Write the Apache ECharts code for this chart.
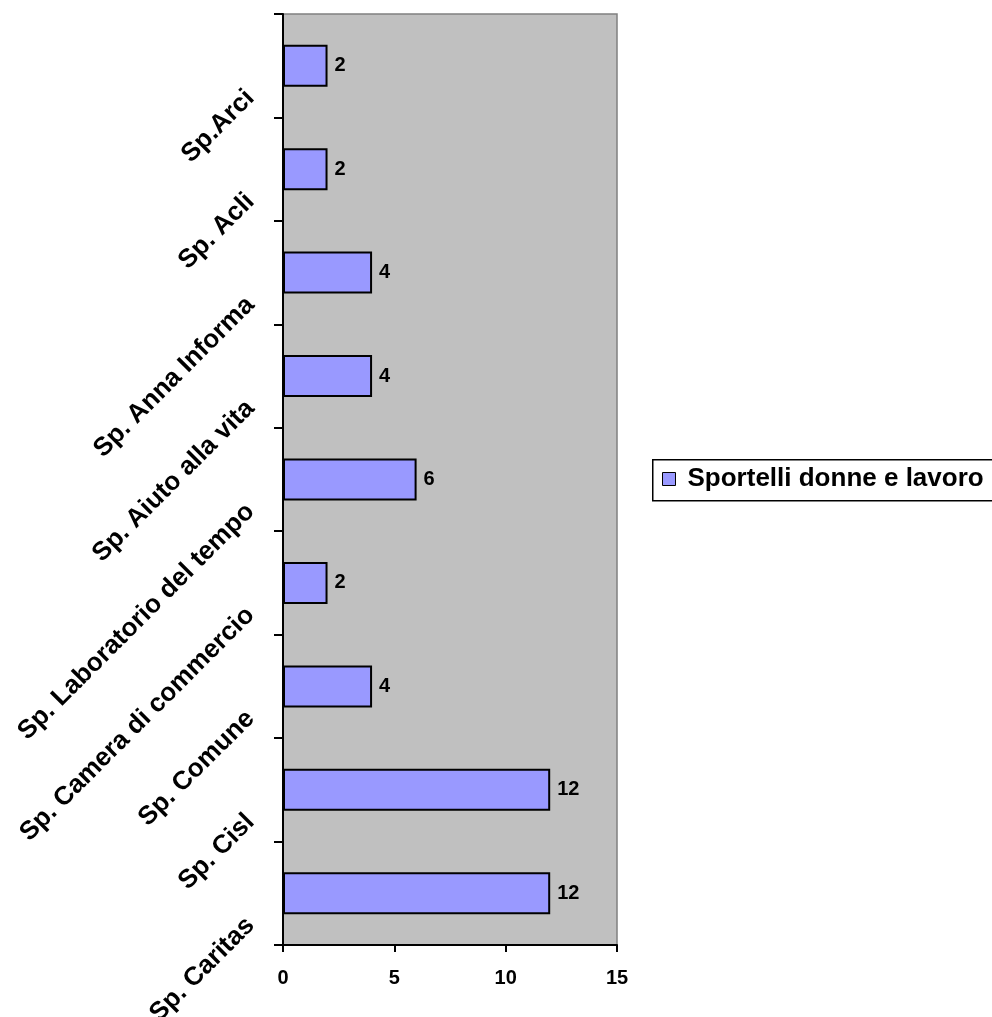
<!DOCTYPE html>
<html>
<head>
<meta charset="utf-8">
<script src="https://cdn.jsdelivr.net/npm/echarts@6/dist/echarts.min.js"></script>
<style>
html,body{margin:0;padding:0;background:#fff;}
#c{width:992px;height:1017px;}
</style>
</head>
<body>
<div id="c"></div>
<script>
const categories = ['Sp. Caritas','Sp. Cisl','Sp. Comune','Sp. Camera di commercio','Sp. Laboratorio del tempo','Sp. Aiuto alla vita','Sp. Anna Informa','Sp. Acli','Sp.Arci'];
const values = [12,12,4,2,6,4,4,2,2];
const seriesName = 'Sportelli donne e lavoro';
const xTicks = [0,5,10,15];

const FONT = 'Liberation Sans, Arial, sans-serif';
const chart = echarts.init(document.getElementById('c'));
chart.setOption({
  animation: false,
  backgroundColor: '#ffffff',
  grid: {
    left: 283, right: 375, top: 14, bottom: 72,
    show: true, backgroundColor: '#C0C0C0', borderColor: '#808080', borderWidth: 1.5,
    containLabel: false, outerBoundsMode: 'none'
  },
  graphic: [{
    type: 'rect', left: 652, top: 459, z: 0,
    shape: { width: 400, height: 41 },
    style: { fill: '#fff', stroke: '#000', lineWidth: 1.5 }
  }],
  legend: {
    left: 652, top: 459, z: 5,
    data: [seriesName],
    orient: 'horizontal',
    padding: [7, 5, 7, 10],
    borderWidth: 0,
    itemWidth: 13, itemHeight: 13,
    icon: 'rect',
    itemStyle: { color: '#9999FF', borderColor: '#000', borderWidth: 1 },
    textStyle: { fontFamily: FONT, fontWeight: 'bold', fontSize: 26, color: '#000', padding: [0,0,0,7] }
  },
  xAxis: {
    type: 'value', min: xTicks[0], max: xTicks[xTicks.length-1], interval: 5,
    axisLine: { show: true, lineStyle: { color: '#000', width: 2 } },
    axisTick: { show: true, length: 7, lineStyle: { color: '#000', width: 2 } },
    splitLine: { show: false },
    axisLabel: { fontFamily: FONT, fontWeight: 'bold', fontSize: 20, color: '#000', margin: 23 }
  },
  yAxis: {
    type: 'category', data: categories,
    axisLine: { show: true, lineStyle: { color: '#000', width: 2 } },
    axisTick: { show: true, length: 9, lineStyle: { color: '#000', width: 2 } },
    axisLabel: {
      interval: 0, rotate: 45, fontFamily: FONT, fontWeight: 'bold', fontSize: 26, color: '#000',
      align: 'right', verticalAlign: 'top', margin: 61, padding: [27,0,0,0]
    }
  },
  series: [{
    name: seriesName, type: 'bar', data: values,
    barWidth: 42,
    itemStyle: { color: '#9999FF', borderColor: '#000', borderWidth: 2 },
    label: { show: true, position: 'right', distance: 7, fontFamily: FONT, fontWeight: 'bold', fontSize: 20, color: '#000' }
  }]
});
</script>
</body>
</html>
